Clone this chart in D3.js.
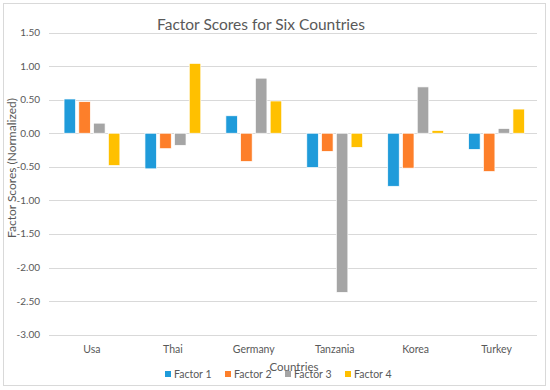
<!DOCTYPE html>
<html lang="en">
<head>
  <meta charset="UTF-8">
  <title>Factor Scores for Six Countries</title>
  <style>
    html, body { margin: 0; padding: 0; background: #fff; }
    svg { display: block; }
    text { font-family: Lato, "Open Sans", Arial, sans-serif; fill: #595959; }
    .grid line { stroke: #d9d9d9; stroke-width: 1; }
  </style>
</head>
<body>
  <svg width="550" height="390"></svg>
  <script src="https://d3js.org/d3.v7.min.js"></script>
  <script>
    const countries = ["Usa", "Thai", "Germany", "Tanzania", "Korea", "Turkey"];
    const factors = ["Factor 1", "Factor 2", "Factor 3", "Factor 4"];
    const factor1 = [0.51, -0.53, 0.26, -0.51, -0.79, -0.24];
    const factor2 = [0.47, -0.23, -0.42, -0.27, -0.52, -0.57];
    const factor3 = [0.15, -0.18, 0.82, -2.37, 0.69, 0.07];
    const factor4 = [-0.48, 1.04, 0.48, -0.21, 0.04, 0.36];
    const yTicks = [1.5, 1.0, 0.5, 0.0, -0.5, -1.0, -1.5, -2.0, -2.5, -3.0];
    const colors = ["#1f9bda", "#fd7f2a", "#a5a5a5", "#ffc000"];

    const series = [factor1, factor2, factor3, factor4];
    const rows = [];
    countries.forEach((c, i) => {
      series.forEach((s, j) => rows.push({ country: c, factor: factors[j], value: s[i] }));
    });

    const svg = d3.select("svg");
    const margin = { left: 51.5, right: 13, top: 32.5, bottom: 55 };
    const W = 550, H = 390;

    // chart frame
    svg.append("rect")
      .attr("x", 3.5).attr("y", 3.5)
      .attr("width", 542).attr("height", 382)
      .attr("fill", "#fff")
      .attr("stroke", "#d9d9d9");

    const x = d3.scaleBand()
      .domain(countries)
      .range([margin.left, W - margin.right])
      .paddingInner(0.31)
      .paddingOuter(0.155);

    const x1 = d3.scaleBand()
      .domain(factors)
      .range([0, x.bandwidth()])
      .paddingInner(0.22);

    const y = d3.scaleLinear()
      .domain([-3, 1.5])
      .range([334.7, 32.5]);

    // gridlines
    svg.append("g")
      .attr("class", "grid")
      .selectAll("line")
      .data(yTicks)
      .join("line")
      .attr("x1", 49)
      .attr("x2", W - margin.right)
      .attr("y1", d => Math.round(y(d)) + 0.5)
      .attr("y2", d => Math.round(y(d)) + 0.5);

    // y tick labels (plain hyphen minus like the original)
    svg.append("g")
      .selectAll("text")
      .data(yTicks)
      .join("text")
      .attr("x", 40)
      .attr("y", d => y(d))
      .attr("dy", "0.35em")
      .attr("text-anchor", "end")
      .attr("font-size", 10)
      .text(d => d.toFixed(2));

    // bars
    svg.append("g")
      .selectAll("rect")
      .data(rows)
      .join("rect")
      .attr("x", d => x(d.country) + x1(d.factor))
      .attr("width", x1.bandwidth())
      .attr("y", d => y(Math.max(0, d.value)))
      .attr("height", d => Math.abs(y(d.value) - y(0)))
      .attr("fill", d => colors[factors.indexOf(d.factor)])
      .attr("stroke", "#fff")
      .attr("stroke-width", 0.7);

    // x labels
    svg.append("g")
      .selectAll("text")
      .data(countries)
      .join("text")
      .attr("x", d => x(d) + x.bandwidth() / 2)
      .attr("y", 353)
      .attr("text-anchor", "middle")
      .attr("font-size", 10.5)
      .text(d => d);

    // title
    svg.append("text")
      .attr("x", 261)
      .attr("y", 30)
      .attr("text-anchor", "middle")
      .attr("font-size", 15.5)
      .text("Factor Scores for Six Countries");

    // axis titles
    svg.append("text")
      .attr("transform", "translate(16,168) rotate(-90)")
      .attr("text-anchor", "middle")
      .attr("font-size", 12)
      .text("Factor Scores (Normalized)");

    svg.append("text")
      .attr("x", 294)
      .attr("y", 371)
      .attr("text-anchor", "middle")
      .attr("font-size", 11.5)
      .text("Countries");

    // legend
    const legend = svg.append("g")
      .selectAll("g")
      .data(factors)
      .join("g")
      .attr("transform", (d, i) => `translate(${165 + i * 60},374)`);
    legend.append("rect")
      .attr("x", 0).attr("y", -3)
      .attr("width", 6).attr("height", 6)
      .attr("fill", (d, i) => colors[i]);
    legend.append("text")
      .attr("x", 9)
      .attr("y", 0)
      .attr("dy", "0.35em")
      .attr("font-size", 10.5)
      .text(d => d);
  </script>
</body>
</html>
